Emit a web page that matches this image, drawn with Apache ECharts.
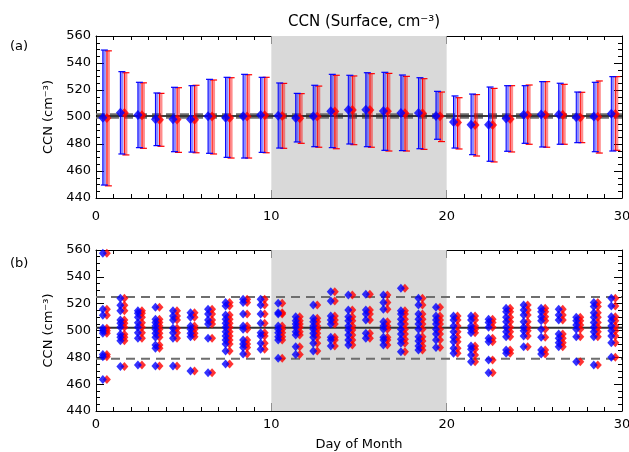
<!DOCTYPE html>
<html>
<head>
<meta charset="utf-8">
<script src="https://cdn.jsdelivr.net/npm/echarts@6/dist/echarts.min.js"></script>
<style>
  html, body { margin: 0; padding: 0; background: #fff; }
  #chart { width: 629px; height: 452px; }
</style>
</head>
<body>
<div id="chart"></div>
<script>
// x positions (day of month, mid-day)
const days = [0.5, 1.5, 2.5, 3.5, 4.5, 5.5, 6.5, 7.5, 8.5, 9.5,
  10.5, 11.5, 12.5, 13.5, 14.5, 15.5, 16.5, 17.5, 18.5, 19.5,
  20.5, 21.5, 22.5, 23.5, 24.5, 25.5, 26.5, 27.5, 28.5, 29.5]

// panel (a): daily means and ranges
const blueMean = [499.5, 503.2, 501.5, 498.3, 498.3, 498.3, 500.5, 499.5, 500.5, 501.5,
  501.0, 499.3, 500.5, 504.2, 505.4, 505.4, 504.4, 503.0, 503.0, 500.7,
  496.3, 494.3, 494.3, 498.8, 501.7, 501.9, 501.9, 499.8, 500.3, 502.5]
const blueHi = [549.6, 533.6, 525.7, 517.8, 522.0, 523.2, 527.9, 529.4, 531.6, 529.4,
  525.2, 517.5, 523.5, 531.6, 530.9, 532.8, 533.1, 531.1, 529.1, 519.0,
  515.6, 517.0, 522.2, 523.2, 523.2, 526.2, 525.0, 518.5, 525.7, 529.9]
const blueLo = [449.6, 472.6, 477.3, 478.8, 474.3, 474.0, 473.1, 470.1, 469.6, 473.8,
  477.0, 481.5, 478.0, 477.3, 480.0, 478.0, 475.3, 475.1, 476.5, 483.5,
  477.0, 472.1, 467.2, 474.6, 480.5, 477.8, 479.8, 481.0, 474.3, 474.8]
const redMean = [499.3, 503.0, 501.3, 498.0, 498.1, 498.0, 500.3, 499.3, 500.3, 501.3,
  500.8, 499.0, 500.3, 504.0, 505.2, 505.2, 504.2, 502.8, 502.8, 500.5,
  496.0, 494.0, 494.0, 498.6, 501.5, 501.7, 501.7, 499.6, 500.1, 502.3]
const redHi = [549.0, 532.8, 525.3, 517.5, 521.7, 523.5, 527.4, 529.1, 531.3, 529.4,
  524.9, 517.3, 522.9, 530.9, 530.4, 532.1, 532.3, 530.1, 528.4, 518.5,
  514.3, 516.6, 521.2, 523.2, 523.7, 526.2, 524.2, 518.3, 526.7, 529.9]
const redLo = [449.0, 471.9, 476.8, 478.3, 473.8, 473.5, 472.6, 469.6, 469.6, 473.5,
  476.8, 480.5, 477.6, 476.5, 479.5, 477.6, 474.8, 474.8, 476.0, 481.8,
  476.3, 471.1, 466.7, 474.1, 479.8, 477.6, 479.8, 481.0, 473.3, 475.3]
const meanA = 500.8
const bandA = [502.1, 499.5]

// panel (b): individual values for each day
const dayValues = [
  [557.5, 515.8, 511.3, 501.6, 499.9, 497.9, 482.2, 480.5, 463.4],
  [524.0, 518.8, 514.8, 507.8, 505.4, 502.4, 497.2, 495.0, 492.4, 473.1],
  [514.8, 512.8, 509.8, 505.8, 502.4, 498.4, 494.2, 474.3],
  [517.3, 508.3, 505.9, 503.4, 500.9, 497.9, 494.9, 489.2, 486.7, 473.6],
  [514.8, 510.8, 507.8, 501.6, 498.4, 494.2, 473.6],
  [513.3, 509.8, 503.4, 500.9, 497.9, 495.4, 469.8],
  [515.8, 512.3, 507.8, 504.9, 494.2, 468.6],
  [520.8, 518.3, 511.5, 508.3, 505.4, 502.4, 499.1, 495.9, 492.9, 489.9, 484.7, 475.1],
  [523.2, 520.8, 512.3, 503.4, 500.9, 492.9, 489.9, 487.4, 482.5],
  [523.2, 519.0, 512.3, 505.4, 498.4, 495.9, 490.5, 486.0],
  [520.3, 513.3, 512.3, 503.4, 500.9, 498.4, 495.4, 492.9, 479.3],
  [510.3, 507.3, 504.9, 502.4, 499.1, 496.6, 487.9, 482.2],
  [519.0, 509.1, 506.6, 503.4, 500.9, 497.9, 494.9, 490.5, 484.7],
  [528.9, 522.0, 510.8, 507.8, 504.9, 494.9, 492.9, 488.5],
  [526.5, 515.3, 510.3, 507.3, 503.4, 500.4, 496.6, 492.9, 489.2],
  [527.0, 515.3, 512.3, 507.8, 497.9, 494.2],
  [526.5, 520.8, 515.8, 506.6, 503.4, 500.9, 494.9, 492.9, 489.2],
  [531.4, 514.8, 512.3, 508.3, 504.9, 500.9, 497.4, 493.4, 490.5, 484.2],
  [524.0, 519.0, 512.3, 508.3, 504.9, 500.9, 495.4, 492.2, 488.5, 485.5],
  [517.3, 510.8, 507.8, 504.9, 500.9, 497.4, 492.9, 487.4],
  [510.8, 507.8, 503.4, 499.1, 494.9, 491.7, 486.7, 483.0],
  [510.8, 507.8, 503.4, 500.9, 498.4, 488.5, 486.0, 481.8, 476.8],
  [508.3, 505.9, 502.4, 494.2, 491.7, 478.0, 468.6],
  [516.5, 514.0, 509.8, 506.6, 502.4, 499.1, 495.4, 485.5, 483.0],
  [519.0, 515.3, 511.5, 506.6, 502.4, 499.9, 495.9, 487.9],
  [516.5, 514.0, 510.3, 507.3, 500.9, 494.9, 485.5, 482.5],
  [515.8, 511.5, 507.8, 497.4, 494.2, 490.9, 487.9],
  [509.8, 507.3, 504.1, 500.9, 495.4, 476.8],
  [520.8, 517.8, 513.3, 509.8, 505.9, 502.4, 499.1, 495.4, 474.3],
  [524.0, 518.3, 510.3, 507.3, 503.4, 499.9, 495.9, 490.9, 480.0]
]
const meanB = 502.0
const bandB = [525.0, 479.0]

const shadeDays = [10, 20]
const xTicks = [0, 10, 20, 30]
const yRange = [440, 560]

const BLUE = '#0000ff'
const RED = '#ff0000'
const FONT = 'DejaVu Sans'

const blueOff = -0.11
const redOff = 0.12

function xAxisCfg(gridIndex, position, showLabel, name, margin) {
  return {
    type: 'value', gridIndex, position, min: xTicks[0], max: xTicks[xTicks.length - 1],
    interval: 10,
    name: name || '', nameLocation: 'middle', nameGap: 27,
    nameTextStyle: { color: '#000', fontFamily: FONT, fontSize: 13 },
    axisLine: { show: true, onZero: false, lineStyle: { color: '#000', width: 1 } },
    axisTick: { show: true, inside: true, length: 8, lineStyle: { color: '#000' } },
    minorTick: { show: true, splitNumber: 10, length: 4, lineStyle: { color: '#000' } },
    axisLabel: { show: showLabel, color: '#000', fontFamily: FONT, fontSize: 13, margin: margin || 8 },
    splitLine: { show: false }
  }
}
function yAxisCfg(gridIndex, position, showLabel) {
  return {
    type: 'value', gridIndex, position, min: yRange[0], max: yRange[1], interval: 20,
    name: showLabel ? 'CCN (cm⁻³)' : '', nameLocation: 'middle', nameGap: 36, nameRotate: 90,
    nameTextStyle: { color: '#000', fontFamily: FONT, fontSize: 13 },
    axisLine: { show: true, onZero: false, lineStyle: { color: '#000', width: 1 } },
    axisTick: { show: true, inside: true, length: 8, lineStyle: { color: '#000' } },
    minorTick: { show: true, splitNumber: 4, length: 4, lineStyle: { color: '#000' } },
    axisLabel: { show: showLabel, color: '#000', fontFamily: FONT, fontSize: 13, margin: 5 },
    splitLine: { show: false }
  }
}

function hLine(xi, yi, v, color, width, type, z) {
  return {
    type: 'line', xAxisIndex: xi, yAxisIndex: yi, data: [[0, v], [30, v]],
    symbol: 'none', silent: true, z,
    lineStyle: { color, width, type }
  }
}

function errBars(offset, lo, hi, dark, light) {
  return {
    type: 'custom', xAxisIndex: 0, yAxisIndex: 0, z: 4, silent: true,
    data: days.map((d, i) => [d + offset, lo[i], hi[i]]),
    encode: { x: 0, y: [1, 2] },
    renderItem(params, api) {
      const x = api.value(0)
      const t = api.coord([x, api.value(2)])
      const b = api.coord([x, api.value(1)])
      return {
        type: 'group',
        children: [
          { type: 'line', shape: { x1: t[0] + 1.5, y1: t[1], x2: b[0] + 1.5, y2: b[1] }, style: { stroke: light, lineWidth: 3 } },
          { type: 'line', shape: { x1: t[0], y1: t[1], x2: b[0], y2: b[1] }, style: { stroke: dark, lineWidth: 1 } },
          { type: 'line', shape: { x1: t[0] - 2, y1: t[1], x2: t[0] + 5, y2: t[1] }, style: { stroke: dark, lineWidth: 1.2 } },
          { type: 'line', shape: { x1: b[0] - 2, y1: b[1], x2: b[0] + 5, y2: b[1] }, style: { stroke: dark, lineWidth: 1.2 } }
        ]
      }
    }
  }
}

const pointsB = (offset) => {
  const out = []
  dayValues.forEach((vals, i) => vals.forEach(v => out.push([days[i] + offset, v])))
  return out
}

const chart = echarts.init(document.getElementById('chart'), null, { renderer: 'canvas' })
chart.setOption({
  animation: false,
  backgroundColor: '#fff',
  title: {
    text: 'CCN (Surface, cm⁻³)', left: 359, top: 10, textAlign: 'center',
    textStyle: { color: '#000', fontFamily: FONT, fontSize: 15, fontWeight: 'normal' }
  },
  graphic: [
    { type: 'text', left: 10, top: 40, style: { text: '(a)', fill: '#000', font: '13px "DejaVu Sans"' } },
    { type: 'text', left: 10, top: 257, style: { text: '(b)', fill: '#000', font: '13px "DejaVu Sans"' } }
  ],
  grid: [
    { left: 96, top: 36, width: 526, height: 162, outerBoundsMode: 'none' },
    { left: 96, top: 250, width: 526, height: 161, outerBoundsMode: 'none' }
  ],
  xAxis: [
    xAxisCfg(0, 'bottom', true, '', 12),
    xAxisCfg(0, 'top', false),
    xAxisCfg(1, 'bottom', true, 'Day of Month', 7),
    xAxisCfg(1, 'top', false)
  ],
  yAxis: [
    yAxisCfg(0, 'left', true),
    yAxisCfg(0, 'right', false),
    yAxisCfg(1, 'left', true),
    yAxisCfg(1, 'right', false)
  ],
  series: [
    // shaded period
    {
      type: 'line', xAxisIndex: 0, yAxisIndex: 0, data: [], silent: true,
      markArea: { silent: true, itemStyle: { color: '#d9d9d9' }, data: [[{ xAxis: shadeDays[0] }, { xAxis: shadeDays[1] }]] }
    },
    {
      type: 'line', xAxisIndex: 2, yAxisIndex: 2, data: [], silent: true,
      markArea: { silent: true, itemStyle: { color: '#d9d9d9' }, data: [[{ xAxis: shadeDays[0] }, { xAxis: shadeDays[1] }]] }
    },
    // panel (a) reference lines
    hLine(0, 0, bandA[0], '#6e6e6e', 2, [9, 5], 2),
    hLine(0, 0, bandA[1], '#6e6e6e', 2, [9, 5], 2),
    hLine(0, 0, meanA, '#000', 1.5, 'solid', 3),
    // panel (a) error bars and means
    errBars(redOff, redLo, redHi, RED, 'rgba(255,0,0,0.45)'),
    errBars(blueOff, blueLo, blueHi, BLUE, 'rgba(0,0,255,0.45)'),
    {
      type: 'scatter', xAxisIndex: 0, yAxisIndex: 0, z: 5, silent: true,
      symbol: 'diamond', symbolSize: [9, 10], itemStyle: { color: RED },
      data: days.map((d, i) => [d + redOff, redMean[i]])
    },
    {
      type: 'scatter', xAxisIndex: 0, yAxisIndex: 0, z: 6, silent: true,
      symbol: 'diamond', symbolSize: [9, 10], itemStyle: { color: BLUE },
      data: days.map((d, i) => [d + blueOff, blueMean[i]])
    },
    // panel (b) reference lines
    hLine(2, 2, bandB[0], '#6e6e6e', 2, [9, 6], 2),
    hLine(2, 2, bandB[1], '#6e6e6e', 2, [9, 6], 2),
    hLine(2, 2, meanB, '#333', 2, 'solid', 3),
    // panel (b) individual values
    {
      type: 'scatter', xAxisIndex: 2, yAxisIndex: 2, z: 5, silent: true,
      symbol: 'diamond', symbolSize: [8, 9], itemStyle: { color: RED },
      data: pointsB(redOff)
    },
    {
      type: 'scatter', xAxisIndex: 2, yAxisIndex: 2, z: 6, silent: true,
      symbol: 'diamond', symbolSize: [8, 9], itemStyle: { color: BLUE },
      data: pointsB(blueOff)
    }
  ]
})
</script>
</body>
</html>
